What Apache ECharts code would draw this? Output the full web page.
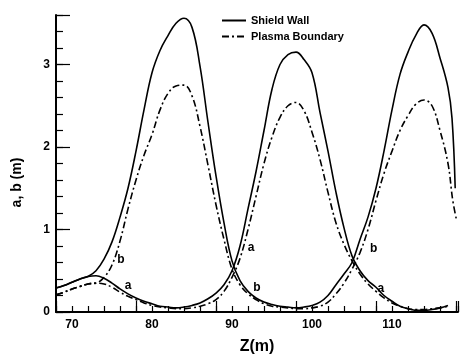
<!DOCTYPE html>
<html style="height: 100%">
<head>
<meta charset="utf-8">
</head>
<body style="height: 100%; margin: 0; background: #fff">
<div id="container" style="width: 461px; height: 360px"></div>
<script type="text/javascript" src="https://cdn.jsdelivr.net/npm/echarts/dist/echarts.min.js"></script>
<script type="text/javascript">
// axial position Z (m) for the a-curves (both wall and plasma)
var zA = [68, 69, 70, 71, 72, 73, 74, 75, 76, 77, 78, 79, 80, 81, 82, 83, 84, 85, 86, 87,
    88, 89, 90, 91, 92, 93, 94, 95, 96, 97, 98, 99, 100, 101, 102, 103, 104, 105, 106, 107,
    108, 109, 110, 111, 112, 113, 114, 115, 116, 117];
var wallA = [0.29, 0.32, 0.36, 0.40, 0.43, 0.44, 0.41, 0.35, 0.28, 0.22, 0.17, 0.13, 0.10, 0.07, 0.06, 0.05, 0.06, 0.08, 0.11, 0.16,
    0.23, 0.33, 0.50, 0.80, 1.25, 1.70, 2.20, 2.70, 3.00, 3.12, 3.15, 3.06, 2.90, 2.42, 1.95, 1.45, 1.02, 0.68, 0.50, 0.38,
    0.30, 0.20, 0.13, 0.07, 0.04, 0.02, 0.02, 0.03, 0.05, 0.08];
var plasmaA = [0.21, 0.24, 0.28, 0.31, 0.34, 0.35, 0.34, 0.30, 0.24, 0.19, 0.15, 0.11, 0.08, 0.06, 0.05, 0.04, 0.04, 0.05, 0.07, 0.10,
    0.15, 0.25, 0.42, 0.65, 1.00, 1.40, 1.80, 2.12, 2.36, 2.50, 2.54, 2.44, 2.18, 1.85, 1.45, 1.08, 0.82, 0.62, 0.46, 0.34,
    0.25, 0.17, 0.11, 0.07, 0.04, 0.03, 0.03, 0.04, 0.05, 0.07];

// b-curves run a little further to the right
var zWallB = [68, 69, 70, 71, 72, 73, 74, 75, 76, 77, 78, 79, 80, 81, 82, 83, 84, 85, 86, 87,
    88, 89, 90, 91, 92, 93, 94, 95, 96, 97, 98, 99, 100, 101, 102, 103, 104, 105, 106, 107,
    108, 109, 110, 111, 112, 113, 114, 115, 116, 117, 117.5, 117.9];
var wallB = [0.29, 0.32, 0.36, 0.40, 0.43, 0.50, 0.64, 0.85, 1.15, 1.50, 1.95, 2.45, 2.90, 3.17, 3.35, 3.50, 3.56, 3.45, 2.98, 2.30,
    1.65, 1.08, 0.62, 0.38, 0.25, 0.17, 0.12, 0.09, 0.07, 0.06, 0.05, 0.06, 0.08, 0.12, 0.20, 0.33, 0.46, 0.60, 0.88, 1.15,
    1.50, 1.95, 2.45, 2.88, 3.15, 3.36, 3.48, 3.38, 3.08, 2.72, 2.35, 1.50];
var zPlasmaB = [68, 69, 70, 71, 72, 73, 74, 75, 76, 77, 78, 79, 80, 81, 82, 83, 84, 85, 86, 87,
    88, 89, 90, 91, 92, 93, 94, 95, 96, 97, 98, 99, 100, 101, 102, 103, 104, 105, 106, 107,
    108, 109, 110, 111, 112, 113, 114, 115, 116, 117, 117.6, 118.1];
var plasmaB = [0.21, 0.24, 0.28, 0.31, 0.34, 0.35, 0.42, 0.57, 0.86, 1.25, 1.60, 1.90, 2.15, 2.45, 2.65, 2.74, 2.75, 2.62, 2.25, 1.78,
    1.30, 0.88, 0.52, 0.33, 0.22, 0.15, 0.10, 0.07, 0.06, 0.05, 0.04, 0.04, 0.05, 0.07, 0.12, 0.22, 0.35, 0.52, 0.72, 1.00,
    1.35, 1.68, 1.95, 2.20, 2.38, 2.52, 2.57, 2.50, 2.20, 1.80, 1.35, 1.10];

// curve tags
var tagZ = [76.1, 77.0, 92.4, 93.1, 107.7, 108.6];
var tagV = [0.64, 0.32, 0.78, 0.29, 0.77, 0.28];
var tagText = ['b', 'a', 'a', 'b', 'b', 'a'];

function pairs(xs, ys) {
    var out = [];
    for (var i = 0; i < xs.length; i++) out.push([xs[i], ys[i]]);
    return out;
}

var tags = [];
for (var i = 0; i < tagZ.length; i++) {
    tags.push({ value: [tagZ[i], tagV[i]], name: tagText[i] });
}

var font = 'Liberation Sans';
var dashDot = [7, 3, 2, 3];

var myChart = echarts.init(document.getElementById('container'));

var option = {
    backgroundColor: '#fff',
    animation: false,
    textStyle: { fontFamily: font, color: '#000' },
    legend: {
        orient: 'vertical',
        left: 216,
        top: 10,
        itemWidth: 24,
        itemHeight: 8,
        itemGap: 5,
        data: ['Shield Wall', 'Plasma Boundary'],
        itemStyle: { opacity: 0 },
        textStyle: { fontFamily: font, fontWeight: 'bold', fontSize: 11, color: '#000' }
    },
    grid: { left: 56, right: 3, top: 15, bottom: 45 },
    xAxis: [{
        type: 'value',
        min: 68,
        max: 118.25,
        interval: 2,
        name: 'Z(m)',
        nameLocation: 'middle',
        nameGap: 27,
        nameTextStyle: { fontFamily: font, fontWeight: 'bold', fontSize: 16, color: '#000' },
        axisLine: { lineStyle: { color: '#000', width: 2 } },
        axisTick: { inside: true, length: 6, lineStyle: { color: '#000', width: 1.2 } },
        axisLabel: {
            fontFamily: font, fontWeight: 'bold', fontSize: 12, color: '#000', margin: 7,
            formatter: function (v) { return v % 10 === 0 ? String(v) : ''; }
        },
        splitLine: { show: false }
    }, {
        type: 'value',
        position: 'bottom',
        min: 68,
        max: 118.25,
        interval: 10,
        axisLine: { show: false },
        axisTick: { inside: true, length: 11, lineStyle: { color: '#000', width: 1.2 } },
        axisLabel: { show: false },
        splitLine: { show: false }
    }],
    yAxis: [{
        type: 'value',
        min: 0,
        max: 3.6,
        interval: 0.2,
        name: 'a, b (m)',
        nameLocation: 'middle',
        nameGap: 32,
        nameTextStyle: { fontFamily: font, fontWeight: 'bold', fontSize: 14, color: '#000', padding: [0, 38, 0, 0] },
        axisLine: { lineStyle: { color: '#000', width: 2 } },
        axisTick: { inside: true, length: 7, lineStyle: { color: '#000', width: 1.2 } },
        axisLabel: {
            fontFamily: font, fontWeight: 'bold', fontSize: 12, color: '#000', margin: 6,
            formatter: function (v) { return Math.abs(v - Math.round(v)) < 1e-6 ? String(Math.round(v)) : ''; }
        },
        splitLine: { show: false }
    }, {
        type: 'value',
        position: 'left',
        min: 0,
        max: 3.6,
        interval: 1,
        axisLine: { show: false },
        axisTick: { inside: true, length: 14, lineStyle: { color: '#000', width: 1.2 } },
        axisLabel: { show: false },
        splitLine: { show: false }
    }],
    series: [
        {
            name: 'Shield Wall', type: 'line', smooth: 0.4, symbol: 'none',
            lineStyle: { color: '#000', width: 1.6 }, itemStyle: { color: '#000' },
            data: pairs(zA, wallA)
        },
        {
            name: 'Shield Wall', type: 'line', smooth: 0.4, symbol: 'none',
            lineStyle: { color: '#000', width: 1.6 }, itemStyle: { color: '#000' },
            data: pairs(zWallB, wallB)
        },
        {
            name: 'Plasma Boundary', type: 'line', smooth: 0.4, symbol: 'none',
            lineStyle: { color: '#000', width: 1.6, type: dashDot }, itemStyle: { color: '#000' },
            data: pairs(zA, plasmaA)
        },
        {
            name: 'Plasma Boundary', type: 'line', smooth: 0.4, symbol: 'none',
            lineStyle: { color: '#000', width: 1.6, type: dashDot }, itemStyle: { color: '#000' },
            data: pairs(zPlasmaB, plasmaB)
        },
        {
            name: 'tags', type: 'scatter', symbolSize: 1, silent: true,
            itemStyle: { color: '#fff', opacity: 1 },
            label: {
                show: true, position: 'inside', formatter: '{b}', opacity: 1,
                fontFamily: font, fontWeight: 'bold', fontSize: 12, color: '#000'
            },
            data: tags
        }
    ]
};

myChart.setOption(option);
</script>
</body>
</html>
